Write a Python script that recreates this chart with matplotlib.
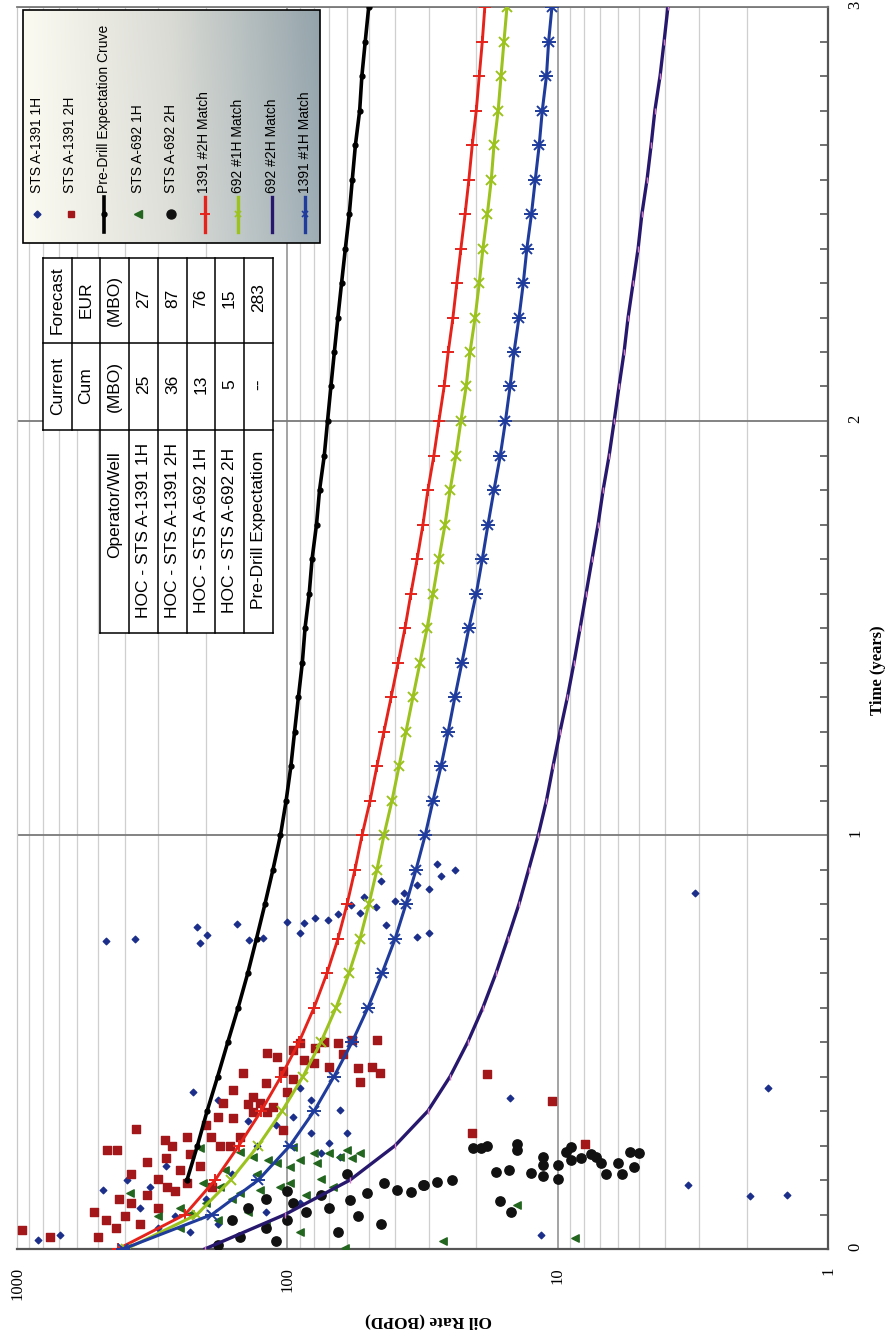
import numpy as np
import matplotlib
matplotlib.use("Agg")
import matplotlib.pyplot as plt
from matplotlib import font_manager
from matplotlib.patches import Rectangle
from matplotlib.ticker import FixedLocator, FuncFormatter, LogLocator

# fonts: serif for axes, narrow sans for legend / table
names = {f.name for f in font_manager.fontManager.ttflist}
NARROW = "Liberation Sans Narrow" if "Liberation Sans Narrow" in names else "Liberation Sans"
SERIF = "Liberation Serif"
plt.rcParams["font.family"] = [SERIF, "DejaVu Serif"]

# ---- decline curves, one value per month (0..36) ----
months = np.arange(37)
predrill_months = np.arange(2, 37)
predrill_rate = [235, 215, 198, 181, 166, 152, 140, 130, 121, 113, 106, 101, 97, 94, 91,
                 88, 86, 83, 81, 78, 76, 73, 71, 69, 67, 65, 63, 61, 59, 57.5, 56, 54,
                 53, 51.5, 50]
match_1391_2h = [423, 239, 185, 151, 125, 105.5, 90.5, 79.6, 71.3, 64.9, 60.1, 56.2, 52.9,
                 49.4, 46.6, 43.9, 41.3, 38.9, 36.7, 34.9, 33.1, 31.5, 30.2, 28.7, 27.5,
                 26.3, 25.4, 24.4, 23.6, 22.8, 22.0, 21.3, 20.7, 20.0, 19.5, 19.0, 18.6]
match_692_1h = [395, 216, 162, 128, 104.6, 87.5, 75.1, 66.0, 59.1, 53.8, 49.9, 46.6, 43.9,
                41.0, 38.6, 36.4, 34.3, 32.3, 30.4, 28.9, 27.5, 26.1, 25.0, 23.8, 22.8,
                21.8, 21.1, 20.2, 19.5, 18.9, 18.2, 17.6, 17.2, 16.6, 16.2, 15.8, 15.4]
match_692_2h = [202, 102, 58.6, 39.9, 30.2, 25.0, 21.5, 18.9, 16.9, 15.3, 13.9, 12.8, 11.8,
                11.0, 10.4, 9.8, 9.2, 8.7, 8.26, 7.85, 7.46, 7.09, 6.79, 6.45, 6.18, 5.93,
                5.68, 5.49, 5.26, 5.04, 4.88, 4.67, 4.51, 4.37, 4.18, 4.04, 3.91]
match_1391_1h = [405, 190, 128, 97.7, 79.6, 67.2, 57.6, 50.3, 44.6, 39.9, 36.4, 33.4, 30.9,
                 28.9, 27.0, 25.4, 24.0, 22.6, 21.3, 20.0, 19.0, 18.1, 17.2, 16.3, 15.6,
                 15.0, 14.5, 13.9, 13.4, 13.0, 12.5, 12.1, 11.7, 11.4, 11.0, 10.8, 10.5]

# ---- production data (time in years, rate in BOPD) ----
a1391_1h_t = [0.744, 0.749, 0.778, 0.758, 0.739, 0.785, 0.746, 0.751, 0.790, 0.787,
              0.763, 0.800, 0.795, 0.810, 0.812, 0.826, 0.783, 0.754, 0.763, 0.915,
              0.900, 0.880, 0.860, 0.840, 0.870, 0.930, 0.890, 0.850, 0.830, 0.860,
              0.380, 0.360, 0.360, 0.336, 0.390, 0.320, 0.280, 0.280, 0.256, 0.232,
              0.222, 0.365, 0.390, 0.300, 0.250, 0.310,
              0.143, 0.167, 0.150, 0.034, 0.022, 0.155, 0.128, 0.130, 0.034, 0.050,
              0.080, 0.100, 0.120, 0.180, 0.200, 0.060, 0.090, 0.110, 0.040]
a1391_1h_q = [469, 366, 216, 198, 210, 154, 139, 123, 100, 87,
              90, 79, 71, 65, 54, 47, 43, 33, 30, 24,
              27, 33, 37, 40, 30, 28, 45, 52, 58, 3.1,
              224, 180, 82, 64, 90, 95, 60, 82, 70, 75,
              64, 15, 1.67, 110, 130, 140,
              481, 392, 322, 693, 836, 3.3, 1.94, 1.42, 11.5, 300,
              260, 350, 200, 160, 280, 180, 120, 90, 230]

a1391_2h_t = [0.046, 0.030, 0.240, 0.240, 0.290, 0.263, 0.250, 0.270, 0.270, 0.250,
              0.250, 0.425, 0.384, 0.473, 0.463, 0.367, 0.353, 0.330, 0.343, 0.430,
              0.410, 0.497, 0.457, 0.485, 0.450, 0.500, 0.497, 0.505, 0.505, 0.437,
              0.440, 0.425, 0.403, 0.287, 0.317, 0.352, 0.330, 0.160, 0.150, 0.423,
              0.357, 0.280, 0.254,
              0.120, 0.110, 0.090, 0.070, 0.050, 0.100, 0.130, 0.140, 0.170, 0.190,
              0.200, 0.210, 0.220, 0.060, 0.080, 0.030, 0.150, 0.180, 0.230, 0.270,
              0.300, 0.320, 0.350, 0.400, 0.380, 0.440, 0.470, 0.480]
a1391_2h_q = [960, 755, 465, 427, 363, 284, 267, 235, 191, 177,
              163, 146, 159, 119, 109, 134, 126, 119, 113, 104,
              95, 90, 87, 79, 80, 73, 65, 57.5, 46.6, 55,
              48.5, 45.5, 54, 104, 159, 173, 134, 235, 279, 18.2,
              10.5, 20.7, 7.9,
              420, 380, 520, 470, 430, 300, 330, 260, 300, 250,
              210, 330, 280, 350, 400, 500, 190, 380, 230, 150,
              200, 180, 140, 120, 100, 70, 62, 95]

a692_1h_t = [0.244, 0.235, 0.222, 0.215, 0.207, 0.198, 0.215, 0.207, 0.232, 0.222,
             0.220, 0.232, 0.240, 0.232, 0.246, 0.160, 0.150, 0.143, 0.135, 0.150,
             0.160, 0.135, 0.150, 0.003, 0.020, 0.027, 0.106, 0.080, 0.085, 0.100,
             0.070, 0.090, 0.110, 0.060, 0.050, 0.120, 0.180, 0.190, 0.040, 0.130, 0.170]
a692_1h_q = [210, 150, 134, 118, 109, 98, 90, 78, 70, 64,
             57.5, 54, 60, 80, 95, 98, 106, 126, 150, 177,
             205, 382, 68, 61, 26.5, 8.6, 14.1, 300, 230, 250,
             180, 140, 200, 120, 250, 160, 130, 170, 90, 85, 75]

a692_2h_t = [0.243, 0.245, 0.248, 0.254, 0.240, 0.186, 0.191, 0.184, 0.222, 0.203,
             0.176, 0.203, 0.169, 0.234, 0.246, 0.215, 0.220, 0.230, 0.222, 0.208,
             0.181, 0.208, 0.181, 0.234, 0.232, 0.198, 0.116, 0.089, 0.155, 0.162,
             0.167, 0.160, 0.143, 0.155, 0.138, 0.135, 0.118, 0.100, 0.090, 0.070,
             0.050, 0.030, 0.110, 0.130, 0.080, 0.060, 0.040, 0.020, 0.010, 0.120,
             0.100, 0.070, 0.140, 0.180]
a692_2h_q = [20.6, 19.2, 18.2, 14.1, 14.1, 16.9, 15.1, 12.6, 11.3, 11.3,
             11.3, 10.0, 10.0, 9.3, 8.9, 8.9, 8.2, 7.5, 7.2, 6.9,
             6.6, 6.0, 5.8, 5.4, 5.0, 5.2, 16.3, 14.9, 31.2, 28.0,
             24.5, 44, 39.4, 31.6, 35, 50.9, 58.6, 70, 85, 100,
             120, 150, 95, 75, 55, 45, 65, 110, 180, 120,
             140, 160, 100, 60]

# ---- table ----
wells = ["HOC - STS A-1391 1H", "HOC - STS A-1391 2H", "HOC - STS A-692 1H",
         "HOC - STS A-692 2H", "Pre-Drill Expectation"]
cum_mbo = ["25", "36", "13", "5", "--"]
eur_mbo = ["27", "87", "76", "15", "283"]

# colours
C_RED, C_GREEN, C_BLUE, C_NAVY = "#e5231b", "#9cc21e", "#1f3c9c", "#27186e"
C_DIA, C_SQ, C_TRI = "#1b2f8a", "#a3161a", "#23661f"

fig = plt.figure(figsize=(8.92, 13.38), dpi=100)
# the chart is printed sideways: rate runs along x (inverted), time along y
ax = fig.add_axes([17 / 892, 1 - 1249 / 1338, 811 / 892, 1242 / 1338], zorder=1)
ax.set_xscale("log")
ax.set_xlim(1000, 1)
ax.set_ylim(0, 3)

ax.xaxis.set_major_locator(LogLocator(base=10, numticks=10))
ax.xaxis.set_minor_locator(LogLocator(base=10, subs=np.arange(2, 10), numticks=20))
ax.xaxis.set_major_formatter(FuncFormatter(lambda v, p: f"{v:g}"))
ax.xaxis.set_minor_formatter(FuncFormatter(lambda v, p: ""))
ax.grid(which="minor", axis="x", color="#cfcfcf", lw=0.9)
ax.grid(which="major", axis="x", color="#8a8a8a", lw=1.1)
ax.grid(which="major", axis="y", color="#7a7a7a", lw=1.3)

ax.yaxis.tick_right()
ax.set_yticks([0, 1, 2, 3])
ax.yaxis.set_minor_locator(FixedLocator([m / 12 for m in months if m % 12]))
ax.tick_params(axis="x", which="both", length=0, pad=13, labelsize=12, labelrotation=90)
ax.tick_params(axis="y", which="major", length=0, pad=14, labelsize=12, labelrotation=90)
ax.tick_params(axis="y", which="minor", direction="in", length=6, width=1.1,
               color="#4a4a4a", right=True, left=False)
for side, col, lw in [("left", "#c8c8c8", 0.9), ("top", "#7a7a7a", 1.3),
                      ("right", "#555555", 1.6), ("bottom", "#555555", 1.6)]:
    ax.spines[side].set_color(col)
    ax.spines[side].set_linewidth(lw)

# production data
ax.scatter(a1391_1h_q, a1391_1h_t, marker="D", s=11, color=C_DIA, zorder=3)
ax.scatter(a1391_2h_q, a1391_2h_t, marker="s", s=26, color=C_SQ, zorder=3)
ax.scatter(a692_1h_q, a692_1h_t, marker="<", s=28, color=C_TRI, zorder=3)
ax.scatter(a692_2h_q, a692_2h_t, marker="o", s=45, color="#111111", zorder=3)

# decline curves
tm = months / 12
ax.plot(predrill_rate, predrill_months / 12, color="black", lw=2.6, marker="o", ms=3.5, zorder=4)
ax.plot(match_692_2h, tm, color=C_NAVY, lw=2.4, marker="|", ms=4, mec="#d27ac8", mew=1, zorder=4)
ax.plot(match_1391_2h, tm, color=C_RED, lw=2.1, marker="+", ms=9, mew=1.4, zorder=5)
ax.plot(match_692_1h, tm, color=C_GREEN, lw=2.2, marker="x", ms=7, mew=1.4, zorder=5)
ax.plot(match_1391_1h, tm, color=C_BLUE, lw=2.2, marker="x", ms=7, mew=1.4, zorder=5)
ax.plot(match_1391_1h, tm, color=C_BLUE, lw=0, marker="_", ms=10, mew=1.4, zorder=5)

fig.text(878 / 892, 1 - 670 / 1338, "Time (years)", rotation=90, ha="center", va="center",
         fontsize=12, fontweight="bold")
fig.text(428 / 892, 1 - 1321 / 1338, "Oil Rate (BOPD)", rotation=180, ha="center",
         va="center", fontsize=12.5, fontweight="bold")

# overlay in pixel units for legend and table
ov = fig.add_axes([0, 0, 1, 1], zorder=5)
ov.patch.set_alpha(0)
ov.axis("off")

# legend box with gradient fill
gx = np.linspace(0, 1, 300)
gy = np.linspace(0, 1, 60)[:, None]
c0 = np.array([0.99, 0.985, 0.95])
c1 = np.array([0.87, 0.875, 0.85])
c2 = np.array([0.62, 0.68, 0.71])
w = np.clip(gx * 2, 0, 1)[None, :, None]
w2 = np.clip(gx * 2 - 1, 0, 1)[None, :, None]
img = c0 * (1 - w) + c1 * w
img = img * (1 - w2) + c2 * w2
img = img - 0.04 * (1 - gy[..., None]) * gx[None, :, None]
img = np.clip(np.broadcast_to(img, (60, 300, 3)), 0, 1)
ov.imshow(img, extent=(23, 320, 243, 10), aspect="auto", zorder=1, interpolation="bilinear")
ov.add_patch(Rectangle((23, 10), 297, 233, fill=False, edgecolor="black", lw=1.2, zorder=2))

leg_labels = ["STS A-1391 1H", "STS A-1391 2H", "Pre-Drill Expectation Cruve",
              "STS A-692 1H", "STS A-692 2H", "1391 #2H Match", "692 #1H Match",
              "692 #2H Match", "1391 #1H Match"]
lx = 37 + 33.5 * np.arange(len(leg_labels))
sym_y = 214
ov.plot([lx[0]], [sym_y], "D", ms=3.5, color=C_DIA, zorder=3)
ov.plot([lx[1]], [sym_y], "s", ms=5, color=C_SQ, zorder=3)
ov.plot([lx[2]] * 2, [197, 232], color="black", lw=2.6, zorder=3)
ov.plot([lx[2]], [sym_y], "o", ms=3.5, color="black", zorder=3)
ov.plot([lx[3]], [sym_y], "<", ms=5.5, color=C_TRI, zorder=3)
ov.plot([lx[4]], [sym_y], "o", ms=6.5, color="#111111", zorder=3)
ov.plot([lx[5]] * 2, [197, 232], color=C_RED, lw=2.4, zorder=3)
ov.plot([lx[5]], [sym_y], "+", ms=7, mew=1.4, color=C_RED, zorder=3)
ov.plot([lx[6]] * 2, [197, 232], color=C_GREEN, lw=2.4, zorder=3)
ov.plot([lx[6]], [sym_y], "x", ms=5, mew=1.2, color=C_GREEN, zorder=3)
ov.plot([lx[7]] * 2, [197, 232], color=C_NAVY, lw=2.4, zorder=3)
ov.plot([lx[8]] * 2, [197, 232], color=C_BLUE, lw=2.4, zorder=3)
ov.plot([lx[8]], [sym_y], "x", ms=5, mew=1.2, color=C_BLUE, zorder=3)
for x, lab in zip(lx, leg_labels):
    ov.text(x, 193, lab, rotation=90, rotation_mode="anchor", ha="left", va="center",
            family=[NARROW, "DejaVu Sans"], fontsize=10, zorder=4)

# summary table, rows run left to right
row_x = [43, 72, 100, 129, 158, 187, 215, 244, 273]
y_top, y_mid, y_op, y_bot = 258, 343, 430, 633
ov.add_patch(Rectangle((43, y_top), 230, y_op - y_top, facecolor="white", edgecolor="none", zorder=2))
ov.add_patch(Rectangle((100, y_op), 173, y_bot - y_op, facecolor="white", edgecolor="none", zorder=2))
for x in row_x:
    y_end = y_bot if x >= 100 else y_op
    ov.plot([x, x], [y_top, y_end], color="black", lw=1.1, zorder=3)
for y in (y_top, y_mid, y_op):
    ov.plot([43, 273], [y, y], color="black", lw=1.1, zorder=3)
ov.plot([100, 273], [y_bot, y_bot], color="black", lw=1.1, zorder=3)

tkw = dict(rotation=90, ha="center", va="center", family=[NARROW, "DejaVu Sans"],
           fontsize=12.5, zorder=4)
cx = [(row_x[i] + row_x[i + 1]) / 2 for i in range(len(row_x) - 1)]
ov.text(cx[0], 386, "Current", **tkw)
ov.text(cx[0], 300, "Forecast", **tkw)
ov.text(cx[1], 386, "Cum", **tkw)
ov.text(cx[1], 300, "EUR", **tkw)
ov.text(cx[2], 386, "(MBO)", **tkw)
ov.text(cx[2], 300, "(MBO)", **tkw)
ov.text(cx[2], 505, "Operator/Well", **tkw)
for i in range(len(wells)):
    ov.text(cx[3 + i], 530, wells[i], **tkw)
    ov.text(cx[3 + i], 384, cum_mbo[i], **tkw)
    ov.text(cx[3 + i], 298, eur_mbo[i], **tkw)

ov.set_xlim(0, 892)
ov.set_ylim(1338, 0)

fig.savefig("out.png", dpi=100)
